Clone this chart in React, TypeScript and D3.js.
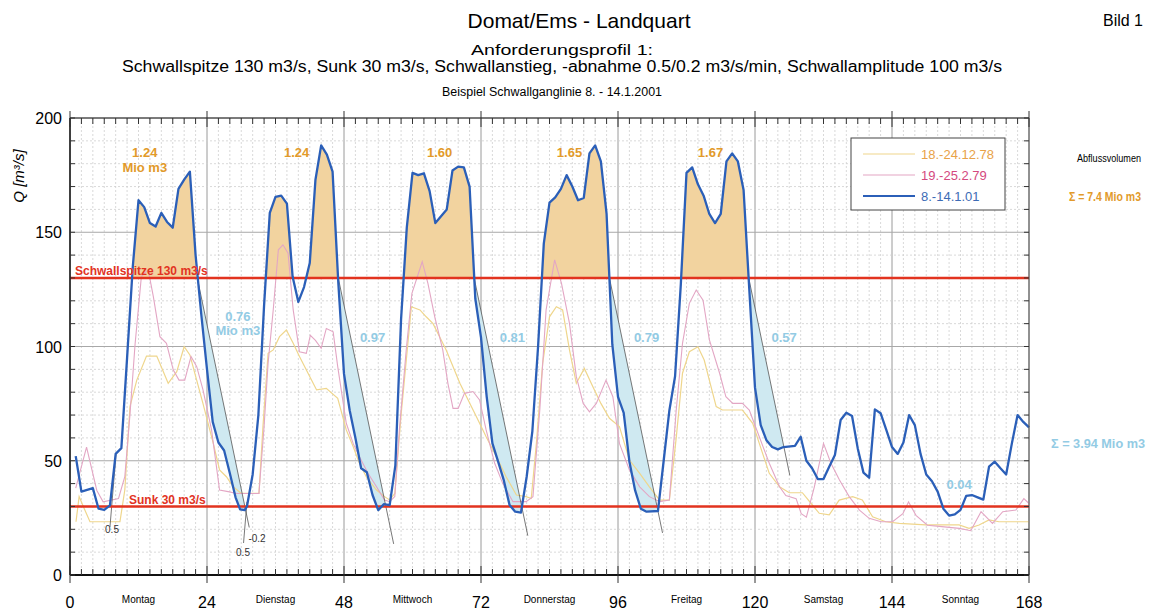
import React from 'react';
import * as d3 from 'd3';

// Abfluss Q [m3/s] je Stunde, gelesen aus der Grafik
const blue: [number, number][] = [
  [1, 52], [2, 36.5], [4, 38], [5, 29], [6, 28.5], [7, 30.5], [8, 53], [9, 55.5], [10, 95], [11, 135],
  [12, 164], [13, 161], [14, 154], [15, 152.5], [16, 158.5], [17, 154.5], [18, 152], [19, 169], [20, 173],
  [21, 176.5], [22, 140], [23, 114], [24, 90], [25, 67], [26, 58], [27, 54.5], [28, 44.5], [29, 34],
  [29.8, 28.7], [30.6, 28.4], [31, 30], [32, 44], [33, 70], [34, 118], [35, 158.5], [36, 165.5], [37, 166],
  [38, 162.5], [39, 130.5], [40, 119.5], [41, 126], [42, 136.5], [43, 173], [44, 188], [45, 184],
  [46, 176.5], [47, 128], [48, 88], [49, 72], [50, 60], [51, 46.7], [52, 45], [53, 35], [54, 28.4],
  [55, 31], [56, 30.6], [57, 48], [58, 112], [59, 152], [60, 176], [61, 175], [62, 175.8], [63, 168],
  [64, 154], [65, 157], [66, 160], [67, 177], [68, 178.7], [69, 178.4], [70, 170], [71, 121], [72, 104],
  [73, 78], [74, 57.6], [75, 49.6], [76, 41.4], [77, 30.6], [78, 27.7], [79, 27.3], [80, 43], [81, 63],
  [82, 100], [83, 145], [84, 163], [85, 165.3], [86, 169], [87, 175], [88, 170], [89, 164], [90, 165],
  [91, 184.5], [92, 188], [93, 181], [94, 158], [95, 101], [96, 78], [97, 71], [98, 49.6], [99, 37],
  [100, 29], [101, 27.7], [103, 28], [104, 50], [105, 72], [106, 87], [107, 127], [108, 176], [109, 178.4],
  [110, 171], [111, 166], [112, 158], [113, 154], [114, 158], [115, 181], [116, 184.5], [117, 181],
  [118, 168.5], [119, 125], [120, 82], [121, 65.6], [122, 59], [123, 56], [124, 55], [125, 56], [127, 56.5],
  [128, 60.5], [129, 50], [130, 46.7], [131, 42], [132, 42], [133, 47.4], [134, 52.5], [135, 67.8],
  [136, 71], [137, 69.6], [138, 55.4], [139, 44.8], [140, 42.6], [141, 72.5], [142, 70.8], [143, 63.5],
  [144, 56], [145, 53], [146, 58], [147, 70], [148, 65.6], [149, 53], [150, 44], [151, 41], [152, 36.5],
  [153, 29], [154, 26], [155, 26.5], [156, 28.5], [157, 34.6], [158, 35], [159, 34], [160, 33],
  [161, 47.4], [162, 49.6], [163, 46.7], [164, 44], [165, 57.6], [166, 70], [167, 67], [168, 64.6],
];

const pink: [number, number][] = [
  [1, 38], [2.9, 56], [4.7, 37], [5.8, 32], [8.5, 33.5], [9.6, 43], [10.5, 70], [11.4, 101], [12.5, 130.6],
  [13.7, 133.5], [14.6, 121.8], [15.75, 104.3], [16.9, 101.4], [18.1, 89.7], [19.1, 85.3], [20.1, 85.3],
  [21.2, 95.6], [22.2, 91.2], [23.3, 81], [24.8, 63.5], [26.2, 37.2], [27.7, 36.5], [29.2, 35.7],
  [33.1, 35.7], [34, 65], [34.7, 92.6], [35.6, 116], [36.5, 142.3], [37.3, 144.5], [38.2, 140.8],
  [39.1, 116], [40.2, 97.7], [41.4, 97], [42.1, 104.9], [43, 102.7], [44, 99.2], [44.9, 107.9],
  [46.1, 106.4], [46.9, 91.2], [48.4, 66.4], [49.6, 57.6], [50.7, 51.8], [52.2, 44.5], [53.7, 38.6],
  [55.1, 32.8], [56, 32.1], [56.9, 34.3], [57.7, 63.5], [58.9, 98.5], [59.9, 123.3], [61.7, 137.1],
  [62.7, 127.6], [63.9, 113], [65.3, 98.5], [66.2, 83.9], [67.1, 72.9], [68, 72.9], [69.1, 79.5],
  [70.6, 80.3], [71.75, 76.6], [72.9, 63.5], [74.4, 48.9], [75.8, 40.1], [77.6, 32.1], [79.9, 32.1],
  [81.1, 34.3], [82.3, 72.2], [83.4, 116], [84.9, 137.9], [86.1, 127.6], [87.5, 110.1], [88.7, 86.8],
  [89.9, 75.1], [91, 71.4], [92.2, 75.1], [93.9, 85.3], [95.1, 78], [96.25, 57.6], [98, 46], [99.8, 38.6],
  [101.5, 34.3], [103.3, 32.1], [105, 32.8], [106.2, 72.2], [107.3, 101.4], [108.5, 118.9],
  [109.7, 124.7], [110.9, 120.3], [112, 103], [113.8, 88.3], [114.9, 78], [116.1, 75.1], [117.8, 75.1],
  [119, 72.2], [120.75, 60.5], [122.5, 48.9], [124.3, 38.6], [125.4, 34.8], [127.2, 33.4], [128.1, 26.8],
  [129, 25.3], [130.4, 38.6], [132, 57.6], [133.3, 48.9], [134.8, 41.6], [136.5, 34.3], [138.3, 28.4],
  [140, 24.8], [142.1, 23.3], [144.1, 23.3], [145.9, 26.8], [146.9, 32], [148.2, 26.1], [150.2, 21.8],
  [152.3, 21.3], [155.8, 20.4], [157.8, 19.4], [159.6, 27.7], [161.6, 22.6], [163.4, 27.7], [165.7, 28.4],
  [167.1, 33.4], [168, 31.3],
];

const yellow: [number, number][] = [
  [1.05, 23.3], [1.6, 34.3], [2.6, 28.4], [3.5, 23.3], [8.75, 23.3], [9.6, 37.2], [10.5, 73.7],
  [11.7, 85.3], [13.4, 95.8], [15.2, 95.8], [17.2, 83.9], [18.7, 89], [20, 99.9], [21, 96.3],
  [23.3, 75], [25.1, 57.6], [26.2, 46], [27.4, 43], [28.6, 38.6], [30, 35.7], [33.1, 35.7], [33.8, 64.9],
  [34.7, 97], [35.6, 98.5], [36.7, 104.3], [37.9, 107.2], [39.1, 101.4], [40.2, 95.6], [41.7, 88.3],
  [43.2, 81], [44.9, 81.7], [46.9, 77.3], [48.4, 63.5], [49.6, 56.2], [50.7, 48.9], [51.9, 43],
  [53.7, 37.2], [55.1, 34.3], [56, 32.8], [56.9, 35.7], [58, 70], [59.8, 117.4], [61.3, 116], [62.4, 113],
  [63.6, 110], [65.9, 98.5], [68.3, 83.9], [71.2, 69.3], [72.9, 60.5], [74.7, 51.8], [76.4, 43],
  [78.2, 35], [79.9, 34.3], [80.8, 33.5], [81.7, 57.6], [82.8, 92.6], [84, 113], [85.2, 117.4],
  [86.3, 116], [87.5, 98.5], [88.7, 83.9], [90.1, 90.4], [91.6, 82.4], [93, 75.1], [94.5, 68.6],
  [96.25, 65], [98, 50.3], [99.8, 44.5], [101.5, 38.6], [103.3, 32.8], [105, 32.8], [106.2, 60],
  [107.3, 88.3], [108.5, 97.7], [110, 99.9], [111.1, 94.1], [112, 85.3], [113.2, 73.7], [114.3, 72.2],
  [117.8, 72.2], [119.6, 66.4], [120.75, 57.6], [122.5, 44.5], [124.3, 38.6], [126, 36], [128.3, 36],
  [129.8, 31.4], [131.25, 27], [133, 26.3], [134.75, 32.8], [137.1, 34.3], [138.8, 32.8], [140.6, 25.5],
  [142.9, 23.3], [145.3, 22.6], [149.9, 21.9], [155.75, 21.9], [157.5, 20.4], [159.25, 21.9],
  [161, 24.1], [162.75, 23.3], [168, 23.3],
];

const days = ['Montag', 'Dienstag', 'Mittwoch', 'Donnerstag', 'Freitag', 'Samstag', 'Sonntag'];
const xTicks = [0, 24, 48, 72, 96, 120, 144, 168];
const yTicks = [0, 50, 100, 150, 200];

const schwallspitze = 130;
const sunk = 30;
// Schwallabnahme 0.2 m3/s/min -> 12 m3/s pro Stunde
const declineRate = 12;
const declineStart = [22.3, 47.0, 70.8, 94.5, 118.9];
const declineEnd = [31.4, 56.7, 80.2, 103.8, 126.1];
// Schwallanstieg 0.5 m3/s/min -> 30 m3/s pro Stunde
const riseRate = 30;
const riseStart: [number, number][] = [[7.0, 21], [30.4, 14]];
const riseTo = [53, 32];

const volAbove = ['1.24', '1.24', '1.60', '1.65', '1.67'];
const volAboveAt: [number, number][] = [[13.1, 183], [39.7, 183], [64.75, 183], [87.5, 183], [112.2, 183]];
const volBelow = ['0.76', '0.97', '0.81', '0.79', '0.57', '0.04'];
const volBelowAt: [number, number][] = [[29.4, 111], [53, 102], [77.5, 102], [101, 102], [125.1, 102], [155.75, 37.6]];

const legendLabels = ['18.-24.12.78', '19.-25.2.79', '8.-14.1.01'];
const lineColors = ['#efd68c', '#e3a6c4', '#2b5fb8'];
const textColors = ['#e8a248', '#d4487e', '#3d6bb5'];

const gold = '#e29a2a';
const cyanText = '#93cbe4';
const red = '#e2331f';

const W = 1154;
const H = 613;
const left = 70, right = 1029, top = 118, bottom = 575;

export default function App() {
  const x = d3.scaleLinear().domain([0, 168]).range([left, right]);
  const y = d3.scaleLinear().domain([0, 200]).range([bottom, top]);

  const line = d3.line<[number, number]>().x((d) => x(d[0])).y((d) => y(d[1]));

  const hs = blue.map((d) => d[0]);
  const qs = blue.map((d) => d[1]);
  const blueAt = (h: number) => {
    const i = Math.min(Math.max(d3.bisectRight(hs, h), 1), hs.length - 1);
    const t = (h - hs[i - 1]) / (hs[i] - hs[i - 1]);
    return qs[i - 1] + t * (qs[i] - qs[i - 1]);
  };

  const aboveArea = d3
    .area<[number, number]>()
    .x((d) => x(d[0]))
    .y0(y(schwallspitze))
    .y1((d) => y(d[1]));

  const declineAreas = declineStart.map((s, i) => {
    const pts = d3.range(s, declineEnd[i], 0.05).concat([declineEnd[i]]);
    return d3
      .area<number>()
      .x((h) => x(h))
      .y0((h) => y(blueAt(h)))
      .y1((h) => y(Math.max(schwallspitze - declineRate * (h - s), blueAt(h))))(pts);
  });

  const minorX = d3.range(0, 169, 2);
  const minorY = d3.range(0, 201, 10);
  const font = 'Liberation Sans, Arial, sans-serif';

  return (
    <svg width={W} height={H} style={{ position: 'absolute', left: 0, top: 0, background: '#fff' }} fontFamily={font}>
      <defs>
        <clipPath id="above">
          <rect x={left} y={top} width={right - left} height={y(schwallspitze) - top} />
        </clipPath>
      </defs>

      {/* titles */}
      <text x={579} y={28} textAnchor="middle" fontSize={21}>Domat/Ems - Landquart</text>
      <text x={1143} y={26} textAnchor="end" fontSize={16}>Bild 1</text>
      <text x={562} y={55} textAnchor="middle" fontSize={15} textLength={182} lengthAdjust="spacingAndGlyphs">Anforderungsprofil 1:</text>
      <text x={562} y={72} textAnchor="middle" fontSize={16} textLength={880} lengthAdjust="spacingAndGlyphs">
        Schwallspitze  130 m3/s, Sunk 30 m3/s, Schwallanstieg, -abnahme 0.5/0.2 m3/s/min, Schwallamplitude 100 m3/s
      </text>
      <text x={552} y={96} textAnchor="middle" fontSize={12} textLength={220} lengthAdjust="spacingAndGlyphs">Beispiel Schwallganglinie 8. - 14.1.2001</text>

      {/* grid */}
      {minorX.map((h) => (
        <line key={'gx' + h} x1={x(h)} x2={x(h)} y1={top} y2={bottom}
          stroke={h % 24 === 0 ? '#9a9a9a' : '#cfcfcf'} strokeWidth={h % 24 === 0 ? 1 : 0.8}
          strokeDasharray={h % 24 === 0 ? undefined : '2,2'} />
      ))}
      {minorY.map((v) => (
        <line key={'gy' + v} x1={left} x2={right} y1={y(v)} y2={y(v)}
          stroke={v % 50 === 0 ? '#a8a8a8' : '#cfcfcf'} strokeWidth={v % 50 === 0 ? 1 : 0.8}
          strokeDasharray={v % 50 === 0 ? undefined : '2,2'} />
      ))}

      {/* volume above Schwallspitze */}
      <path d={aboveArea(blue) ?? ''} fill="#f2d39f" clipPath="url(#above)" />
      {/* volume under decline line */}
      {declineAreas.map((d, i) => (
        <path key={'da' + i} d={d ?? ''} fill="#cfe9f1" />
      ))}

      {/* reference series */}
      <path d={line(yellow) ?? ''} fill="none" stroke={lineColors[0]} strokeWidth={1.2} />
      <path d={line(pink) ?? ''} fill="none" stroke={lineColors[1]} strokeWidth={1.1} />

      {/* decline / rise lines */}
      {declineStart.map((s, i) => (
        <line key={'dl' + i} x1={x(s)} y1={y(schwallspitze)} x2={x(declineEnd[i])}
          y2={y(schwallspitze - declineRate * (declineEnd[i] - s))} stroke="#555" strokeWidth={0.8} />
      ))}
      {riseStart.map((p, i) => (
        <line key={'rl' + i} x1={x(p[0])} y1={y(p[1])} x2={x(p[0] + (riseTo[i] - p[1]) / riseRate)}
          y2={y(riseTo[i])} stroke="#555" strokeWidth={0.8} />
      ))}

      {/* limits */}
      <line x1={left} x2={right} y1={y(schwallspitze)} y2={y(schwallspitze)} stroke={red} strokeWidth={2.5} />
      <line x1={left} x2={right} y1={y(sunk)} y2={y(sunk)} stroke={red} strokeWidth={2.5} />

      {/* measured series */}
      <path d={line(blue) ?? ''} fill="none" stroke={lineColors[2]} strokeWidth={2.3} strokeLinejoin="round" />

      {/* frame and ticks */}
      <line x1={left} x2={right} y1={top} y2={top} stroke="#222" strokeWidth={1.2} />
      <line x1={right} x2={right} y1={top} y2={bottom} stroke="#555" strokeWidth={1} />
      <line x1={left} x2={left} y1={top} y2={bottom} stroke="#111" strokeWidth={1.5} />
      <line x1={left} x2={right} y1={bottom} y2={bottom} stroke="#111" strokeWidth={1.8} />
      {minorX.map((h) => (
        <g key={'tx' + h}>
          <line x1={x(h)} x2={x(h)} y1={h % 24 === 0 ? top - 7 : top} y2={h % 24 === 0 ? top + 9 : top + 6} stroke="#333" />
          <line x1={x(h)} x2={x(h)} y1={h % 24 === 0 ? bottom - 9 : bottom - 6} y2={h % 24 === 0 ? bottom + 8 : bottom} stroke="#333" />
        </g>
      ))}
      {minorY.map((v) => (
        <g key={'ty' + v}>
          <line x1={left} x2={left + 5} y1={y(v)} y2={y(v)} stroke="#333" />
          <line x1={right - 5} x2={right} y1={y(v)} y2={y(v)} stroke="#333" />
        </g>
      ))}
      {xTicks.map((h) => (
        <text key={'xl' + h} x={x(h)} y={608} textAnchor="middle" fontSize={16}>{h}</text>
      ))}
      {days.map((d, i) => (
        <text key={d} x={x(i * 24 + 12)} y={603} textAnchor="middle" fontSize={10}>{d}</text>
      ))}
      {yTicks.map((v) => (
        <text key={'yl' + v} x={62} y={y(v) + 6} textAnchor="end" fontSize={16}>{v}</text>
      ))}
      <text transform="translate(24,176) rotate(-90)" textAnchor="middle" fontSize={15} fontStyle="italic">
        Q [m³/s]
      </text>

      {/* limit labels */}
      <text x={75} y={275} fontSize={12} fontWeight="bold" fill={red}>Schwallspitze 130 m3/s</text>
      <text x={129} y={504} fontSize={12} fontWeight="bold" fill={red}>Sunk 30 m3/s</text>

      {/* rate labels */}
      <text x={112} y={533} textAnchor="middle" fontSize={10} fill="#333">0.5</text>
      <text x={257} y={542} textAnchor="middle" fontSize={10} fill="#333">-0.2</text>
      <text x={243} y={556} textAnchor="middle" fontSize={10} fill="#333">0.5</text>

      {/* volume labels */}
      {volAbove.map((t, i) => (
        <text key={'va' + i} x={x(volAboveAt[i][0])} y={y(volAboveAt[i][1])} textAnchor="middle"
          fontSize={13} fontWeight="bold" fill={gold}>{t}</text>
      ))}
      <text x={x(volAboveAt[0][0])} y={y(volAboveAt[0][1]) + 15} textAnchor="middle" fontSize={13} fontWeight="bold" fill={gold}>Mio m3</text>
      {volBelow.map((t, i) => (
        <text key={'vb' + i} x={x(volBelowAt[i][0])} y={y(volBelowAt[i][1])} textAnchor="middle"
          fontSize={13} fontWeight="bold" fill={cyanText}>{t}</text>
      ))}
      <text x={x(volBelowAt[0][0])} y={y(volBelowAt[0][1]) + 14} textAnchor="middle" fontSize={13} fontWeight="bold" fill={cyanText}>Mio m3</text>

      {/* legend */}
      <rect x={851} y={138} width={154} height={72} fill="#fff" stroke="#444" strokeWidth={1} />
      {legendLabels.map((l, i) => (
        <g key={l} transform={`translate(863,${154 + i * 21})`}>
          <line x1={0} x2={52} y1={0} y2={0} stroke={lineColors[i]} strokeWidth={i === 2 ? 2.2 : 1.2} />
          <text x={58} y={5} fontSize={13} fill={textColors[i]}>{l}</text>
        </g>
      ))}

      {/* right side */}
      <text x={1077} y={162} fontSize={10} textLength={64} lengthAdjust="spacingAndGlyphs">Abflussvolumen</text>
      <text x={1069} y={201} fontSize={12} fontWeight="bold" fill={gold} textLength={72} lengthAdjust="spacingAndGlyphs">Σ = 7.4 Mio m3</text>
      <text x={1051} y={448} fontSize={12} fontWeight="bold" fill={cyanText} textLength={94} lengthAdjust="spacingAndGlyphs">Σ = 3.94 Mio m3</text>
    </svg>
  );
}
